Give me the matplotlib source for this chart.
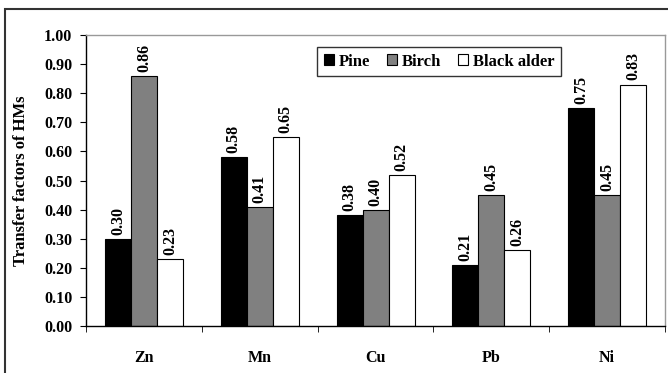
import numpy as np
import matplotlib.pyplot as plt
from matplotlib.patches import Rectangle, Patch

plt.rcParams["font.family"] = ["Liberation Serif", "DejaVu Serif"]
plt.rcParams["font.weight"] = "bold"

metals = ["Zn", "Mn", "Cu", "Pb", "Ni"]
series = ["Pine", "Birch", "Black alder"]
pine = [0.30, 0.58, 0.38, 0.21, 0.75]
birch = [0.86, 0.41, 0.40, 0.45, 0.45]
alder = [0.23, 0.65, 0.52, 0.26, 0.83]
colors = ["#000000", "#808080", "#ffffff"]
yticks = np.arange(0, 1.001, 0.1)


def main():
    fig = plt.figure(figsize=(6.68, 3.73), dpi=100)
    ax = fig.add_axes([0.129, 0.126, 0.8665, 0.780])

    x = np.arange(len(metals))
    w = 0.225
    for i, vals in enumerate([pine, birch, alder]):
        xs = x + (i - 1) * w
        ax.bar(xs, vals, w, color=colors[i], edgecolor="black", linewidth=0.8,
               label=series[i], zorder=2)
        for xi, v in zip(xs, vals):
            ax.text(xi, v + 0.014, "%.2f" % v, rotation=90, ha="center", va="bottom",
                    fontsize=11.5, fontweight="bold")

    ax.set_xlim(-0.5, len(metals) - 0.5)
    ax.set_ylim(0, 1.0)
    ax.set_yticks(yticks)
    ax.set_yticklabels(["%.2f" % t for t in yticks])
    ax.set_xticks(x)
    ax.set_xticklabels(metals)
    ax.set_xticks(np.arange(-0.5, len(metals)), minor=True)
    ax.tick_params(axis="x", which="major", length=0, pad=17, labelsize=11.5)
    ax.tick_params(axis="x", which="minor", length=4, direction="out")
    ax.tick_params(axis="y", length=4, direction="out", pad=6, labelsize=11.5)
    for t in ax.get_xticklabels() + ax.get_yticklabels():
        t.set_fontweight("bold")

    ax.set_ylabel("Transfer factors of HMs", fontsize=12, fontweight="bold", labelpad=11)

    for s in ["top", "right"]:
        ax.spines[s].set_color("#999999")
        ax.spines[s].set_linewidth(1.0)
    for s in ["left", "bottom"]:
        ax.spines[s].set_color("black")
        ax.spines[s].set_linewidth(1.0)

    handles = [Patch(facecolor=c, edgecolor="black", linewidth=0.8) for c in colors]
    leg = ax.legend(handles, series, loc="upper left", bbox_to_anchor=(0.399, 0.959),
                    borderaxespad=0, ncol=3, frameon=True, fancybox=False,
                    edgecolor="black", handlelength=0.6, handleheight=0.6,
                    handletextpad=0.3, columnspacing=1.0, borderpad=0.4,
                    prop={"weight": "bold", "size": 12})
    leg.get_frame().set_linewidth(1.0)

    # outer chart border (cropped at right and bottom)
    fig.patches.append(Rectangle((5 / 668, -0.05), 1.1, 1 - 9 / 373 + 0.05,
                                 transform=fig.transFigure, fill=False,
                                 edgecolor="#333333", linewidth=1.5))

    fig.savefig("out.png", dpi=100)


if __name__ == "__main__":
    main()
